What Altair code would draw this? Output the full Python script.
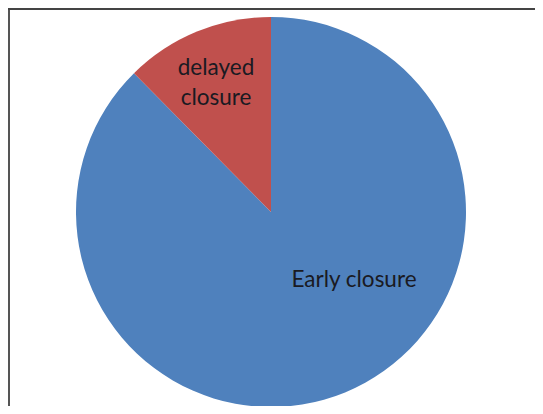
import altair as alt
import pandas as pd

categories = ["Early closure", "delayed closure"]
values = [87.6, 12.4]
colors = ["#4F81BD", "#C0504D"]
order = [0, 1]

df = pd.DataFrame({"category": categories, "value": values, "order": order})

CX, CY, R = 263, 204, 195

base = alt.Chart(df)

pie = base.mark_arc(radius=R, stroke=None).encode(
    theta=alt.Theta("value:Q", stack=True),
    order=alt.Order("order:Q"),
    color=alt.Color("category:N", scale=alt.Scale(domain=categories, range=colors), legend=None),
    x=alt.value(CX),
    y=alt.value(CY),
)

font = "Lato"

lbl_early = base.transform_filter(alt.datum.category == "Early closure").mark_text(
    font=font, fontSize=22.5, color="#1a1a22", align="center", baseline="middle"
).encode(text="category:N", x=alt.value(346), y=alt.value(272))

lbl_delayed = base.transform_filter(alt.datum.category == "delayed closure").mark_text(
    font=font, fontSize=22.5, color="#1a1a22", align="center", baseline="middle",
    lineBreak=" ", lineHeight=30
).encode(text="category:N", x=alt.value(208), y=alt.value(60))

left_rule = base.mark_rule(color="#555555", strokeWidth=2).encode(
    x=alt.value(1), y=alt.value(0), y2=alt.value(398)
)
top_rule = base.mark_rule(color="#444444", strokeWidth=2).encode(
    x=alt.value(0), x2=alt.value(527), y=alt.value(1)
)

chart = alt.layer(pie, lbl_early, lbl_delayed, left_rule, top_rule).properties(
    width=527, height=398, padding=0, autosize=alt.AutoSizeParams(type="none")
).configure_view(stroke=None)

chart.save("out.html", embed_options={"renderer": "svg", "actions": False})
